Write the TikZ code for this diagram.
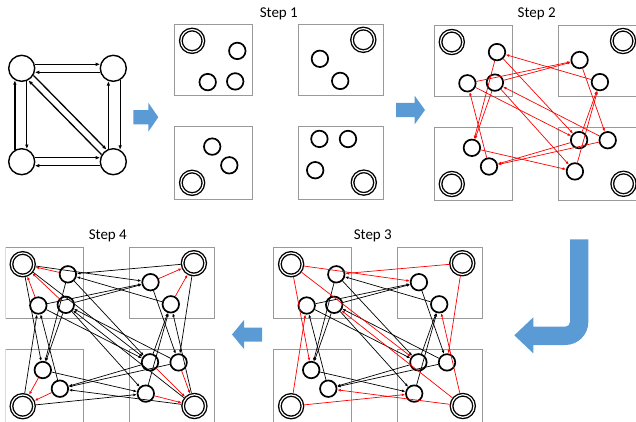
\documentclass[tikz,border=0pt]{standalone}
\usepackage{fontspec}
\setmainfont{Carlito}
\usetikzlibrary{arrows.meta}
\definecolor{arrowblue}{RGB}{91,155,213}

% four machines, same layout in every step
\newcommand{\placemachines}[3]{%
\begin{scope}[shift={(#2,#3)}]
\draw[boxframe] (0,0) rectangle (78.4,70.7);
\draw[boxframe] (124,0) rectangle (209.3,70.7);
\draw[boxframe] (0,101.7) rectangle (78.4,175.2);
\draw[boxframe] (124,101.7) rectangle (209.3,175.2);
\node[hubnode] (#1P) at (17.8,16.5) {};
\node[hubnode] (#1Q) at (189,15.5) {};
\node[hubnode] (#1R) at (17.8,158.5) {};
\node[hubnode] (#1S) at (189.5,158.3) {};
\node[smallnode] (#1A) at (63,26.6) {};
\node[smallnode] (#1B) at (33.4,57.8) {};
\node[smallnode] (#1C) at (60.9,57.1) {};
\node[smallnode] (#1D) at (145.6,34.5) {};
\node[smallnode] (#1E) at (165.9,56.6) {};
\node[smallnode] (#1F) at (145.1,114.6) {};
\node[smallnode] (#1G) at (173.7,114.7) {};
\node[smallnode] (#1H) at (140.9,145.9) {};
\node[smallnode] (#1I) at (37.9,122.3) {};
\node[smallnode] (#1J) at (55,141) {};
\end{scope}}

\newcommand{\peerlinks}{A/I,C/I,J/B,E/A,B/D,C/D,A/F,B/F,C/H,G/C,D/G,H/E,F/E,I/H,G/J,F/J}
\newcommand{\hublinks}{P/D,P/I,P/F,Q/A,Q/G,R/H,R/B,S/J,S/E,S/C}
\newcommand{\homelinks}{A/P,B/P,C/P,D/Q,E/Q,I/R,J/R,F/S,G/S,H/S}

\begin{document}
\begin{tikzpicture}[x=1pt,y=-1pt,
  boxframe/.style={draw=gray!80,line width=0.8pt},
  smallnode/.style={circle,draw,fill=white,line width=1.7pt,minimum size=16.5pt,inner sep=0pt},
  hubnode/.style={circle,draw,fill=white,double,double distance=1.2pt,line width=1.35pt,minimum size=22.5pt,inner sep=0pt,outer sep=1.95pt},
  graphnode/.style={circle,draw,line width=1.4pt,minimum size=26pt,inner sep=0pt},
  graphedge/.style={-{Latex[length=4.5pt,width=3.6pt]},line width=1.3pt},
  redlink/.style={-{Latex[length=3.4pt,width=2.8pt]},red,line width=0.7pt},
  blacklink/.style={-{Latex[length=3.4pt,width=2.8pt]},black,line width=0.7pt},
  bluearrow/.style={fill=arrowblue},
  steplabel/.style={font=\fontsize{15}{18}\selectfont}]
\useasboundingbox (0,0) rectangle (636,421);

% input graph
\node[graphnode] (tl) at (21.7,68.3) {};
\node[graphnode] (tr) at (113.3,68.3) {};
\node[graphnode] (bl) at (21.7,161.7) {};
\node[graphnode] (br) at (113.3,161.7) {};
\draw[graphedge] (tl.17) -- (tr.163);
\draw[graphedge] (tr.197) -- (tl.343);
\draw[graphedge] (bl.120) -- (tl.240);
\draw[graphedge] (tl.292) -- (bl.68);
\draw[graphedge] (br.111) -- (tr.249);
\draw[graphedge] (tr.300) -- (br.60);
\draw[graphedge] (bl.17) -- (br.163);
\draw[graphedge] (br.197) -- (bl.343);
\draw[graphedge] (tl.-31) -- (br.119);
\draw[graphedge] (br.149) -- (tl.-61);

% big arrows
\fill[bluearrow] (133.3,110) -- (148.3,110) -- (148.3,102.7) -- (158.3,117.2) -- (148.3,131.7) -- (148.3,124.3) -- (133.3,124.3) -- cycle;
\fill[bluearrow] (396,102.8) -- (414.5,102.8) -- (414.5,95.5) -- (425,110) -- (414.5,124.5) -- (414.5,117.2) -- (396,117.2) -- cycle;
\fill[bluearrow] (570,239.3) -- (588.3,239.3) -- (588.3,322) arc[start angle=0,end angle=90,radius=23] -- (533.3,345) -- (533.3,353.3) -- (514.3,335.3) -- (533.3,317.3) -- (533.3,326.7) -- (565.3,326.7) arc[start angle=90,end angle=0,radius=4.7] -- cycle;
\fill[bluearrow] (262,327.5) -- (244,327.5) -- (244,320) -- (232,334.5) -- (244,349) -- (244,341.5) -- (262,341.5) -- cycle;

% step labels
\node[steplabel] (lab1) at (278.8,14) {Step 1};
\node[steplabel] (lab2) at (536.7,14) {Step 2};
\node[steplabel] (lab3) at (372.8,235.5) {Step 3};
\node[steplabel] (lab4) at (107.8,235.5) {Step 4};

% step 1
\placemachines{a}{174.3}{24.3}

% step 2
\placemachines{b}{434}{25.5}
\foreach \u/\v in \peerlinks \draw[redlink] (b\u) -- (b\v);

% step 3
\placemachines{c}{273.3}{247.7}
\foreach \u/\v in \peerlinks \draw[blacklink] (c\u) -- (c\v);
\foreach \u/\v in \hublinks \draw[redlink] (c\u) -- (c\v);

% step 4
\begin{scope}
\clip (5.6,240) rectangle (260,421);
\placemachines{d}{4.9}{247.7}
\foreach \u/\v in \peerlinks \draw[blacklink] (d\u) -- (d\v);
\foreach \u/\v in \hublinks \draw[blacklink] (d\u) -- (d\v);
\foreach \u/\v in \homelinks \draw[redlink] (d\u) -- (d\v);
\end{scope}
\end{tikzpicture}
\end{document}
